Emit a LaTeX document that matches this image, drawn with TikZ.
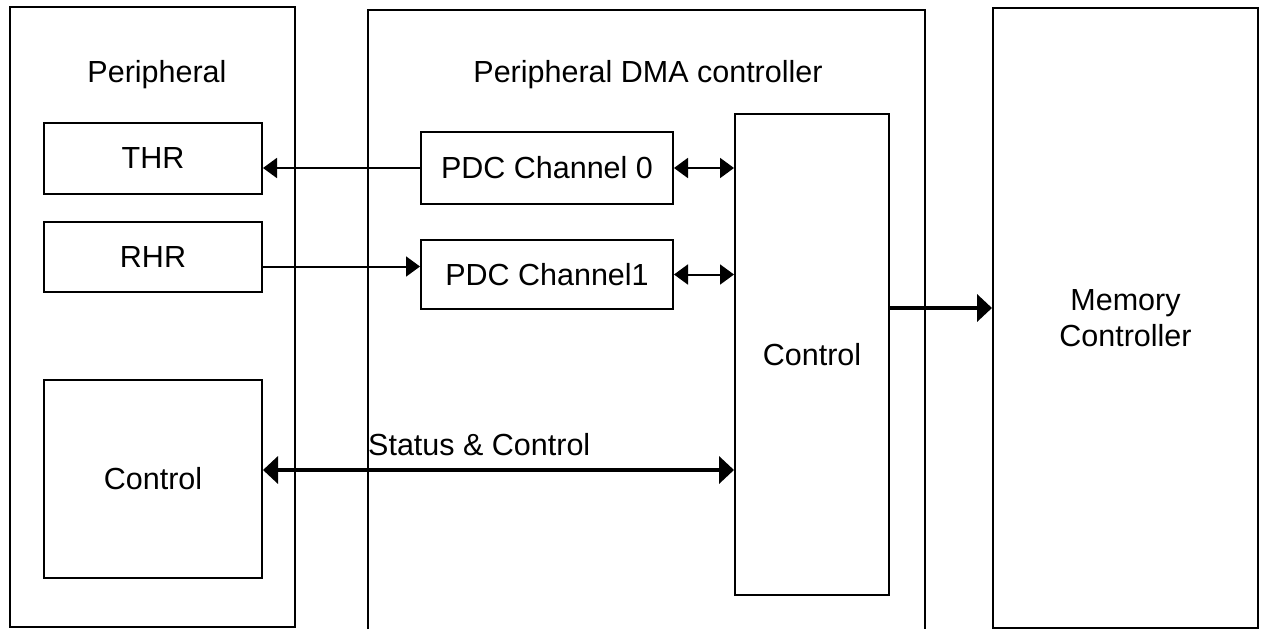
\documentclass[tikz,border=0pt]{standalone}
\usepackage{fontspec}
\setmainfont{Liberation Sans}
\usetikzlibrary{arrows.meta}

\begin{document}
\begin{tikzpicture}
    [x=1pt,y=-1pt,
      every node/.style={font=\fontsize{30.5}{36}\selectfont},
      frame/.style={rectangle,draw=black,line width=2pt,inner sep=0pt,
        minimum height=620pt},
      block/.style={rectangle,draw=black,line width=2pt,inner sep=0pt},
      link/.style={line width=2pt,-{Triangle[length=14pt,width=20pt]}},
      dlink/.style={line width=2pt,
        {Triangle[length=14pt,width=20pt]}-{Triangle[length=14pt,width=20pt]}},
      bus/.style={line width=4.5pt,-{Triangle[length=15pt,width=27pt]}},
      dbus/.style={line width=4.5pt,
        {Triangle[length=15pt,width=27pt]}-{Triangle[length=15pt,width=27pt]}}
    ]
    \useasboundingbox (0,0) rectangle (1268,629);

    \node [frame,minimum width=285pt] (pBox) at (152.5,317) {};
    \node [frame,minimum width=265pt,align=center] (mBox) at (1125.5,318)
      {Memory\\Controller};
    \draw [line width=2pt] (368,629) -- (368,10) -- (925,10) -- (925,629);

    \node [anchor=base] (pTitle) at (157,82) {Peripheral};
    \node [anchor=base] (dTitle) at (648,82) {Peripheral DMA controller};

    \node [block,minimum width=218pt,minimum height=71pt] (thr) at (153,158.5) {THR};
    \node [block,minimum width=218pt,minimum height=70pt] (rhr) at (153,257) {RHR};
    \node [block,minimum width=218pt,minimum height=198pt] (pCtrl) at (153,479) {Control};
    \node [block,minimum width=252pt,minimum height=72pt] (ch0) at (547,168) {PDC Channel 0};
    \node [block,minimum width=252pt,minimum height=69pt] (ch1) at (547,274.5) {PDC Channel1};
    \node [block,minimum width=154pt,minimum height=481pt] (dCtrl) at (812,354.5) {Control};

    \draw [link] (ch0.west) -- (ch0.west -| thr.east);
    \draw [link] ([yshift=-9.5pt]rhr.east) -- ([yshift=-9.5pt]rhr.east -| ch1.west);
    \draw [dlink] (ch0.east) -- (ch0.east -| dCtrl.west);
    \draw [dlink] (ch1.east) -- (ch1.east -| dCtrl.west);
    \draw [bus] ([yshift=46.5pt]dCtrl.east) -- ([yshift=46.5pt]dCtrl.east -| mBox.west);
    \draw [dbus] ([yshift=9pt]pCtrl.east) -- ([yshift=9pt]pCtrl.east -| dCtrl.west);

    \node [anchor=base west,inner sep=0pt] (sLabel) at (368,455) {Status \& Control};
  \end{tikzpicture}
\end{document}
